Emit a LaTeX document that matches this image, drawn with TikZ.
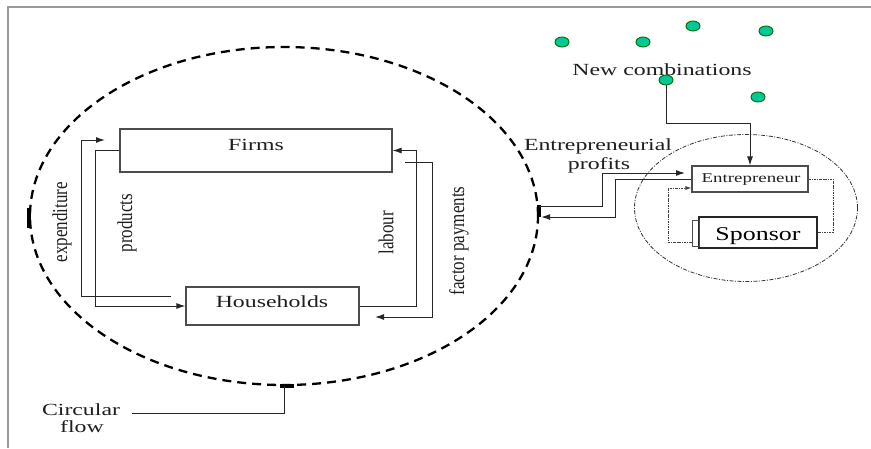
\documentclass[tikz,border=0pt]{standalone}
\usepackage{fontspec}
\setmainfont{Liberation Serif}
\usepackage{graphicx}
\usetikzlibrary{shapes.geometric,arrows.meta,calc}
\newcommand\hsx[1]{\scalebox{1.4}[1]{#1}}
\newcommand\vsx[1]{\scalebox{1}[1.25]{#1}}
\definecolor{dotgreen}{RGB}{0,200,150}
\definecolor{txt}{RGB}{30,30,30}
\begin{document}
\begin{tikzpicture}[x=1pt,y=-1pt,
 lbl/.style={inner sep=0pt,text=txt,font=\fontsize{17}{17}\selectfont},
 box/.style={draw=black!70,line width=1.1pt,rectangle,inner sep=0pt},
 conn/.style={draw=black!85,line width=1pt},
 arr/.style={conn,-{Latex[length=9pt,width=6pt]}},
 gdot/.style={ellipse,draw=black!60!green,fill=dotgreen,line width=0.9pt,minimum width=14pt,minimum height=10pt,inner sep=0pt},
 dotline/.style={draw=black!75,line width=0.9pt,dash pattern=on 2.5pt off 1pt on 0.8pt off 1pt},
]
\useasboundingbox (0,0) rectangle (871,448);
\draw[black!40,line width=2pt] (871,7) -- (8,7) -- (8,448);

% big circular flow ellipse
\node[ellipse,draw=black,line width=2.3pt,dash pattern=on 9pt off 6pt,minimum width=508pt,minimum height=338pt,inner sep=0pt] (cf) at (284,216) {};
\draw[line width=3.6pt] ($(cf.east)+(0,-11)$) -- ($(cf.east)+(0,1)$);
\draw[line width=3.6pt] ($(cf.west)+(0,-8)$) -- ($(cf.west)+(0,12)$);
\draw[line width=3.6pt] ($(cf.south)+(-4,0)$) -- ($(cf.south)+(10,0)$);

% small entrepreneur ellipse
\node[ellipse,draw=black!80,line width=0.8pt,dash pattern=on 4pt off 1.5pt on 1pt off 1.5pt,minimum width=223pt,minimum height=147pt,inner sep=0pt] (ec) at (746,208) {};

% boxes
\node[box,minimum width=272pt,minimum height=43pt] (firms) at (256,150.5) {};
\node[lbl,anchor=base] (firmsT) at (256,150) {\hsx{Firms}};
\node[box,minimum width=173pt,minimum height=38pt] (hh) at (272.5,306) {};
\node[lbl,anchor=base] (hhT) at (272,307) {\hsx{Households}};
\node[box,minimum width=116pt,minimum height=26pt] (ent) at (750,179) {};
\node[lbl,anchor=base,font=\fontsize{13.5}{14}\selectfont] (entT) at (751,182) {\hsx{Entrepreneur}};
\node[box,draw=black!85,minimum width=118pt,minimum height=31pt] (sp) at (758,232.5) {};
\node[lbl,anchor=base,text=black,font=\fontsize{19.5}{20}\selectfont] (spT) at (758,240) {\scalebox{1.33}[1]{Sponsor}};
\node[box,line width=0.9pt,minimum width=7pt,minimum height=26pt] (tab) at (695.5,233) {};

% labels
\node[lbl,rotate=90] (expT) at (62,222) {\vsx{expenditure}};
\node[lbl,rotate=90] (prodT) at (127,223) {\vsx{products}};
\node[lbl,rotate=90] (labT) at (386,233) {\vsx{labour}};
\node[lbl,rotate=90] (facT) at (459,241) {\vsx{factor payments}};
\node[lbl,anchor=base] (ncT) at (662,75) {\hsx{New combinations}};
\node[lbl,anchor=base] (epT) at (598,150) {\hsx{Entrepreneurial}};
\node[lbl,anchor=base] (pfT) at (599,169) {\hsx{profits}};
\node[lbl,anchor=base] (cirT) at (81,415) {\hsx{Circular}};
\node[lbl,anchor=base] (flowT) at (82,432) {\hsx{flow}};

% green dots
\node[gdot] (d1) at (562,42) {};
\node[gdot] (d2) at (643,42) {};
\node[gdot] (d3) at (693,26) {};
\node[gdot] (d4) at (766,31) {};
\node[gdot] (d5) at (666,80) {};
\node[gdot] (d6) at (758,97) {};

% circular flow connectors
\coordinate (e0) at (171,296);
\coordinate (e1) at (105,140);
\draw[arr] (e0) -| (81,140) -- (e1);
\draw[arr] (firms.west) -- ++(-24,0) |- (hh.west);
\draw[arr] (hh.east) -- ++(57,0) |- (firms.east);
\coordinate (f0) at (405,162);
\coordinate (f1) at (375,317);
\draw[arr] (f0) -| (432,317) -- (f1);
\coordinate (c0) at (132,413);
\draw[conn] (c0) -| (cf.south);

% entrepreneur connectors
\coordinate (pA1) at (685,173);
\draw[arr] ($(cf.east)+(0,-10)$) -| (602,173) -- (pA1);
\draw[arr] (ent.west) -| (615,217) -- ($(cf.east)+(2,1)$);
\draw[arr] (d5.south) -- (666,123) -| (ent.north);
\draw[dotline] (ent.east) -| (833,232.5) -- (sp.east);
\draw[dotline,-{Latex[length=6pt,width=4pt]}] ($(tab.west)+(0,9)$) -| (668,188) -- ($(ent.west)+(0,9)$);
\end{tikzpicture}
\end{document}
